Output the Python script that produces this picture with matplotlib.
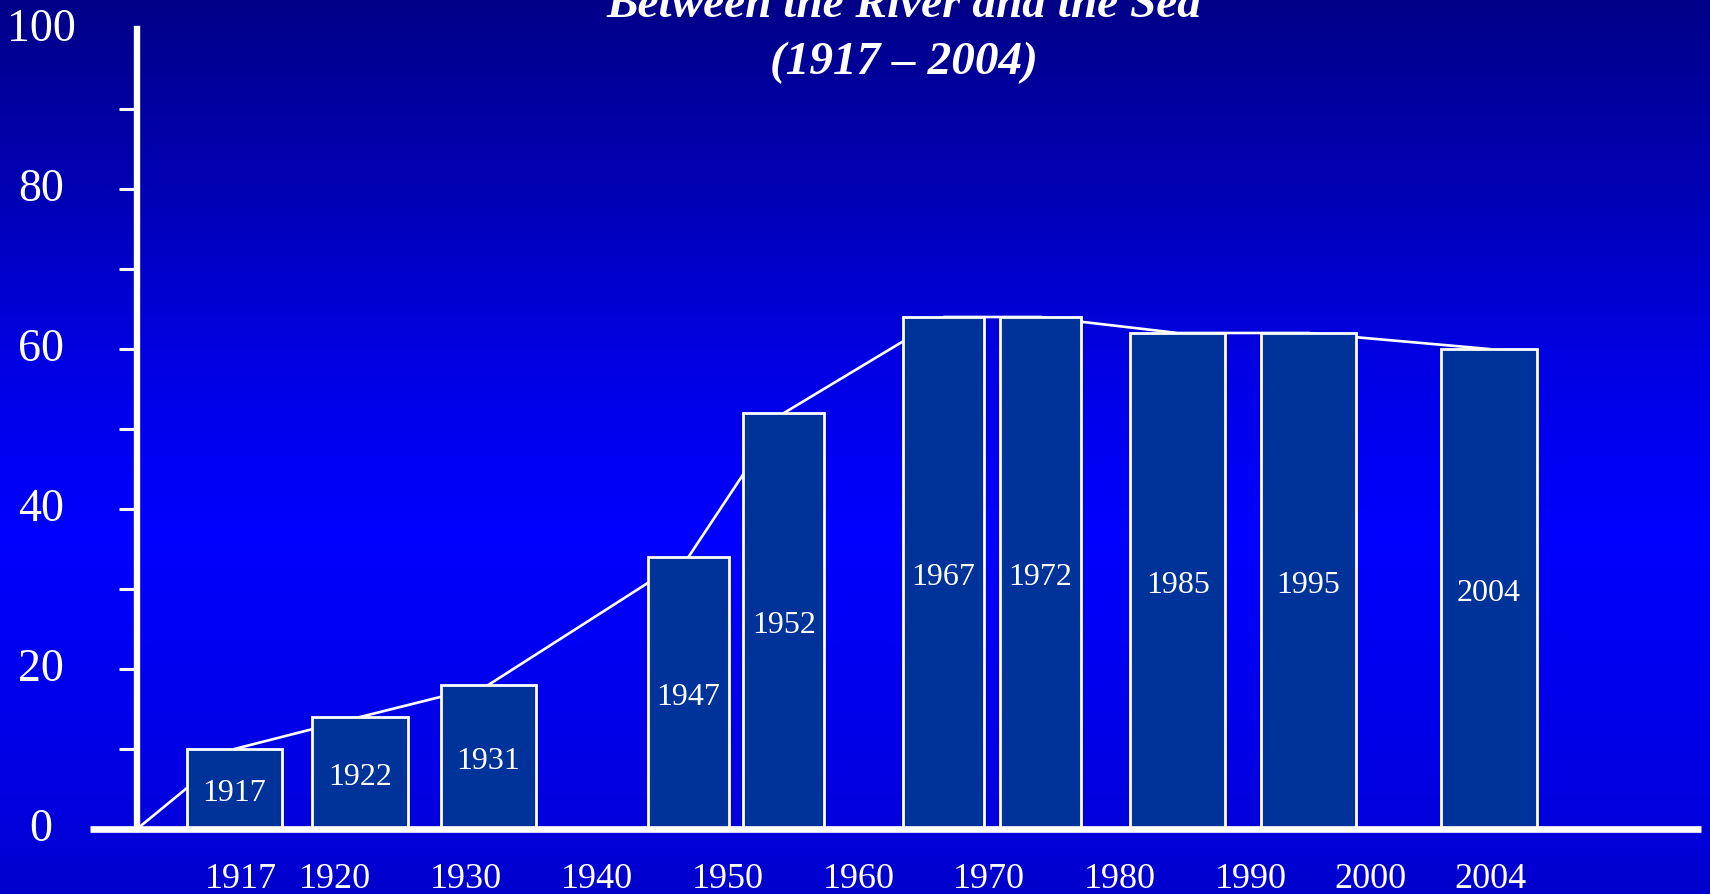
import numpy as np
import matplotlib.pyplot as plt
from matplotlib.colors import LinearSegmentedColormap

# census years and share of the population (percent)
years = ["1917", "1922", "1931", "1947", "1952", "1967", "1972", "1985", "1995", "2004"]
share = [10, 14, 18, 34, 52, 64, 64, 62, 62, 60]

# column placement along the time axis and column widths (axis units)
bar_x = [1912.3, 1921.9, 1931.7, 1947.0, 1954.3, 1966.5, 1973.9, 1984.4, 1994.4, 2008.2]
bar_w = [7.3, 7.3, 7.3, 6.2, 6.2, 6.2, 6.2, 7.3, 7.3, 7.3]

# labels under the axis
tick_labels = ["1917", "1920", "1930", "1940", "1950", "1960", "1970", "1980", "1990", "2000", "2004"]
tick_x = [1912.8, 1920, 1930, 1940, 1950, 1960, 1970, 1980, 1990, 1999.1, 2008.3]

serif = "Liberation Serif"
W, H = 1710, 895
fig = plt.figure(figsize=(W / 100, H / 100), dpi=100)

# background: dark navy at the top, full blue lower down
bg = fig.add_axes([0, 0, 1, 1], zorder=0)
grad = LinearSegmentedColormap.from_list(
    "slide",
    [(0.0, "#0000cc"), (0.08, "#0000dd"), (0.4, "#0000ff"),
     (0.6, "#0000e2"), (0.78, "#0000b6"), (1.0, "#000088")])
bg.imshow(np.linspace(0, 1, 256).reshape(-1, 1), cmap=grad, aspect="auto",
          extent=[0, 1, 0, 1], origin="lower")
bg.axis("off")

ax = fig.add_axes([137 / W, 65 / H, 1564 / W, 800 / H], zorder=1)
ax.patch.set_alpha(0)
ax.set_xlim(1904.85, 2024.4)
ax.set_ylim(0, 100)

# trend line through the column tops, starting from the origin
ax.plot([1904.85] + bar_x, [0] + share, color="white", lw=1.9, zorder=1,
        solid_joinstyle="round")

ax.bar(bar_x, share, width=bar_w, color="#003399", edgecolor="white",
       linewidth=2, zorder=2)
for x, v, lab in zip(bar_x, share, years):
    ax.text(x, v / 2, lab, ha="center", va="center_baseline", color="white",
            fontsize=23, family=serif, zorder=3)

# axes lines
for s in ["top", "right", "bottom"]:
    ax.spines[s].set_visible(False)
ax.spines["left"].set_color("white")
ax.spines["left"].set_linewidth(4.6)
ax.spines["left"].set_bounds(0, 100)
ax.plot([-0.03, 1.0], [0, 0], color="white", lw=4.8,
        transform=ax.get_yaxis_transform(), clip_on=False, zorder=4,
        solid_capstyle="butt")

ax.set_xticks(tick_x, tick_labels)
ax.tick_params(axis="x", length=0, pad=24, labelsize=26, labelcolor="white")

ax.yaxis.remove_overlapping_locs = False
ax.set_yticks(range(0, 101, 20))
ax.set_yticks(range(10, 91, 10), minor=True)
ax.tick_params(axis="y", which="major", length=0, pad=69, labelsize=33,
               labelcolor="white")
ax.tick_params(axis="y", which="minor", length=13, width=2.2, color="white")
for t in ax.get_yticklabels():
    t.set_horizontalalignment("center")
    t.set_verticalalignment("center")
for t in ax.get_xticklabels() + ax.get_yticklabels():
    t.set_family(serif)

fig.text(904 / W, 1 - 17 / H, "Between the River and the Sea", ha="center",
         va="baseline", color="white", fontsize=34, weight="bold",
         style="italic", family=serif)
fig.text(904 / W, 1 - 74 / H, "(1917 \u2013 2004)", ha="center",
         va="baseline", color="white", fontsize=34, weight="bold",
         style="italic", family=serif)

fig.savefig("out.png", dpi=100)
